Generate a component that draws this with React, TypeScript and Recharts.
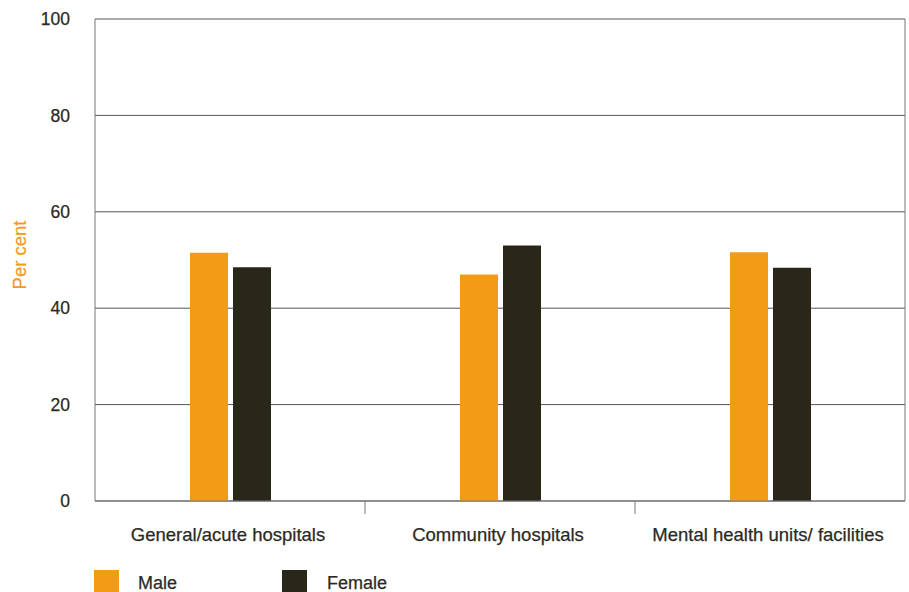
import React from 'react';
import { BarChart, Bar, XAxis, YAxis, CartesianGrid, Legend } from 'recharts';

const categories = ['General/acute hospitals', 'Community hospitals', 'Mental health units/ facilities'];
const seriesNames = ['Male', 'Female'];
const maleValues = [51.5, 47.0, 51.6];
const femaleValues = [48.5, 53.0, 48.4];
const yTicks = [0, 20, 40, 60, 80, 100];

const ORANGE = '#F39A17';
const DARK = '#29261A';
const TEXT = '#2b2a22';
const FONT = '"Liberation Sans", Arial, sans-serif';

const data = categories.map((name, i) => ({
  name,
  male: maleValues[i],
  female: femaleValues[i],
}));

// draws the label plus a separator tick at the right edge of each band
const CategoryTick = (props: any) => {
  const { x, y, payload, index } = props;
  const half = payload && payload.offset ? payload.offset : 135;
  return (
    <g>
      {index < categories.length - 1 && (
        <line x1={x + half} x2={x + half} y1={y} y2={y + 13} stroke="#777" strokeWidth={1} />
      )}
      <text
        x={x - 2}
        y={y + 40}
        textAnchor="middle"
        fill={TEXT}
        stroke={TEXT}
        strokeWidth={0.25}
        fontSize={18.5}
        fontFamily={FONT}
      >
        {payload.value}
      </text>
    </g>
  );
};

const PerCentLabel = (props: any) => {
  const vb = props.viewBox || { x: 0, y: 19, width: 95, height: 482 };
  const cx = 19;
  const cy = vb.y + vb.height / 2 - 5;
  return (
    <text
      x={cx}
      y={cy}
      transform={`rotate(-90, ${cx}, ${cy})`}
      textAnchor="middle"
      dominantBaseline="central"
      fill={ORANGE}
      stroke={ORANGE}
      strokeWidth={0.2}
      fontSize={18.5}
      fontFamily={FONT}
    >
      Per cent
    </text>
  );
};

const LegendBox = (props: any) => {
  const items = props.payload || [];
  return (
    <div style={{ position: 'relative', width: 400, height: 30, fontFamily: FONT }}>
      {items.map((item: any, i: number) => (
        <div key={item.value} style={{ position: 'absolute', left: i * 188, top: 0 }}>
          <div style={{ position: 'absolute', left: 0, top: 0, width: 25, height: 25, background: item.color }} />
          <div
            style={{
              position: 'absolute',
              left: 44 + i,
              top: 3,
              fontSize: 18,
              color: TEXT,
              whiteSpace: 'nowrap',
              WebkitTextStroke: `0.25px ${TEXT}`,
            }}
          >
            {item.value}
          </div>
        </div>
      ))}
    </div>
  );
};

const App = () => {
  return (
    <div style={{ position: 'absolute', left: 0, top: 0, width: 909, height: 592, background: '#fff' }}>
      <BarChart
        width={909}
        height={592}
        data={data}
        margin={{ top: 19, right: 0, bottom: 0, left: 0 }}
        barGap={5}
        barSize={38}
      >
        <CartesianGrid yAxisId="left" vertical={false} stroke="#555" strokeWidth={1} />
        <XAxis
          dataKey="name"
          height={91}
          tickLine={false}
          tickSize={0}
          tickMargin={0}
          axisLine={{ stroke: '#777', strokeWidth: 1 }}
          tick={<CategoryTick />}
          interval={0}
        />
        <YAxis
          yAxisId="left"
          width={95}
          domain={[0, 100]}
          ticks={yTicks}
          tickLine={false}
          tickSize={0}
          tickMargin={25}
          axisLine={{ stroke: '#777', strokeWidth: 1 }}
          tick={{ fill: TEXT, stroke: TEXT, strokeWidth: 0.25, fontSize: 17.5, fontFamily: FONT }}
          label={<PerCentLabel />}
        />
        <YAxis
          yAxisId="right"
          orientation="right"
          width={4}
          domain={[0, 100]}
          tick={false}
          tickLine={false}
          axisLine={{ stroke: '#777', strokeWidth: 1 }}
        />
        <Legend
          layout="horizontal"
          align="center"
          verticalAlign="middle"
          itemSorter={(item: any) => seriesNames.indexOf(item.value)}
          wrapperStyle={{ left: 94, top: 570, width: 400, height: 30 }}
          content={<LegendBox />}
        />
        <Bar yAxisId="left" dataKey="male" name={seriesNames[0]} fill={ORANGE} isAnimationActive={false} />
        <Bar yAxisId="left" dataKey="female" name={seriesNames[1]} fill={DARK} isAnimationActive={false} />
      </BarChart>
    </div>
  );
};

export default App;
